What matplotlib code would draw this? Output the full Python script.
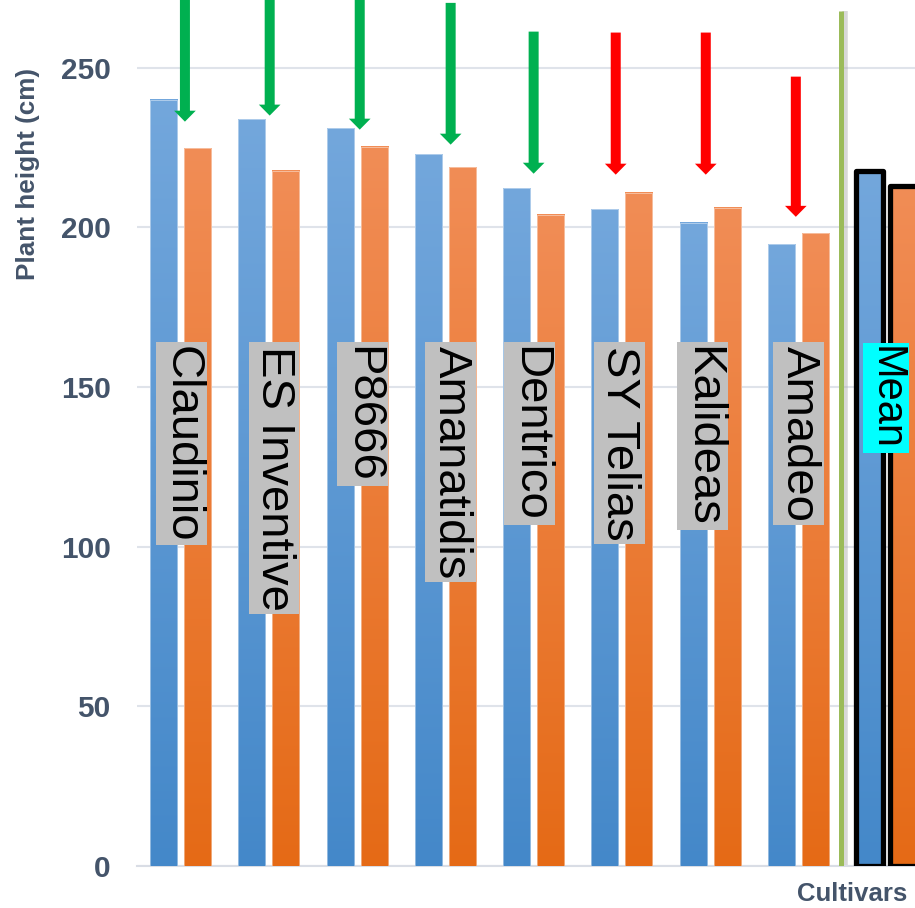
import matplotlib.pyplot as plt
import numpy as np
from matplotlib.colors import LinearSegmentedColormap

plt.rcParams['font.family'] = ['Liberation Sans', 'DejaVu Sans']

cultivars = ['Claudinio', 'ES Inventive', 'P8666', 'Amanatidis', 'Dentrico',
             'SY Telias', 'Kalideas', 'Amadeo']
blue_vals = [240.0, 233.8, 231.0, 222.9, 212.2, 205.7, 201.4, 194.7]
orange_vals = [224.8, 217.8, 225.3, 218.9, 203.9, 210.9, 206.1, 198.1]
mean_label = 'Mean'
mean_blue = 217.6
mean_orange = 213.1
yticks = [0, 50, 100, 150, 200, 250]

# arrow annotations: tail and tip heights (cm), colour
arrow_tail = [285, 285, 285, 270.3, 261.3, 261.0, 261.0, 247.2]
arrow_tip = [233.1, 235.0, 230.6, 225.9, 216.8, 216.5, 216.5, 203.3]
arrow_col = ['#00b050'] * 5 + ['#ff0000'] * 3
arrow_dx = [0.05, 0.01, 0.03, 0.06, 0.0, -0.07, -0.05, -0.03]
label_dx = [0.01, 0.06, 0.06, 0.06, -0.05, -0.03, -0.09, 0.0]

TXT = '#44546a'
blue_cm = LinearSegmentedColormap.from_list('b', ['#4488c9', '#73a7dc'])
orange_cm = LinearSegmentedColormap.from_list('o', ['#e56a16', '#f18d56'])

fig = plt.figure(figsize=(9.15, 9.08), dpi=100)
ax = fig.add_axes([137 / 915, 42 / 908, 778 / 915, 866 / 908])

w = 0.306
off = 0.193
grad = np.linspace(0, 1, 256).reshape(-1, 1)


def grad_bar(x, h, cmap, z=3):
    ax.imshow(grad, extent=[x - w / 2, x + w / 2, 0, h], origin='lower',
              cmap=cmap, aspect='auto', zorder=z, interpolation='bilinear')
    ax.bar(x, h, w, facecolor='none', edgecolor='white', linewidth=0.6,
           alpha=0.5, zorder=z + 0.1)


n = len(cultivars)
for i in range(n):
    grad_bar(i - off, blue_vals[i], blue_cm)
    grad_bar(i + off, orange_vals[i], orange_cm)

# mean bars with black outline
m = n
grad_bar(m - off, mean_blue, blue_cm)
grad_bar(m + off, mean_orange, orange_cm)
ax.bar([m - off, m + off], [mean_blue, mean_orange], w, facecolor='none',
       edgecolor='black', linewidth=3.8, joinstyle='round', zorder=4)

# separator line with shadow
sep = n - 0.52
ax.plot([sep + 0.045, sep + 0.045], [0, 267.9], color='#aaaaaa', lw=4,
        alpha=0.45, zorder=2, solid_capstyle='butt')
ax.plot([sep, sep], [0, 267.9], color='#9bbb59', lw=3.6, zorder=3,
        solid_capstyle='butt')

# arrows
for i in range(n):
    x = i + arrow_dx[i]
    ax.annotate('', xy=(x, arrow_tip[i]), xytext=(x, arrow_tail[i]),
                arrowprops=dict(facecolor=arrow_col[i], edgecolor='none',
                                width=7.2, headwidth=15.6, headlength=7.9,
                                shrink=0), zorder=6, annotation_clip=False)

# cultivar labels
for i, name in enumerate(cultivars):
    ax.text(i + label_dx[i], 163.0, name, rotation=-90, ha='center', va='top',
            fontsize=34, color='black', zorder=7,
            bbox=dict(boxstyle='square,pad=0.07', facecolor='#c0c0c0',
                      edgecolor='none'))
ax.text(m - 0.01, 162.8, mean_label, rotation=-90, ha='center', va='top',
        fontsize=30, color='black', zorder=7,
        bbox=dict(boxstyle='square,pad=0.07', facecolor='#00ffff',
                  edgecolor='none'))

ax.set_xlim(-0.493, 8.32)
ax.set_ylim(0, 271.2)
ax.set_yticks(yticks)
ax.set_yticklabels([str(t) for t in yticks], fontsize=21.5, fontweight='bold',
                   color=TXT)
ax.tick_params(axis='y', length=0, pad=19)
ax.set_xticks([])
ax.grid(axis='y', color='#dfe3ea', linewidth=1.5, zorder=0)
ax.set_axisbelow(True)
for s in ['top', 'right', 'left']:
    ax.spines[s].set_visible(False)
ax.spines['bottom'].set_color('#d9dde5')
ax.spines['bottom'].set_linewidth(1.5)

fig.text(28 / 915, 1 - 174.5 / 908, 'Plant height (cm)', rotation=90,
         ha='center', va='center', fontsize=18.8, fontweight='bold', color=TXT)
fig.text(852 / 915, 1 - 894 / 908, 'Cultivars', ha='center', va='center',
         fontsize=18.5, fontweight='bold', color=TXT)

fig.savefig('out.png', dpi=100)
